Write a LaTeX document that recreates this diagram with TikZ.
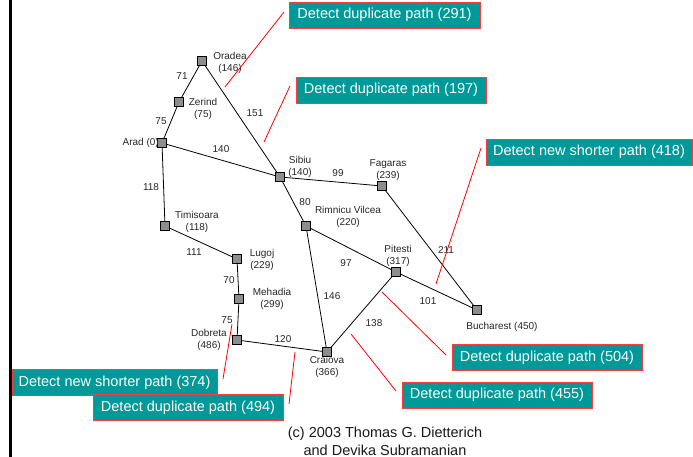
\documentclass[tikz,border=0pt]{standalone}
\usepackage{fontspec}
\setmainfont{Liberation Sans}
\definecolor{boxteal}{RGB}{0,153,153}
\definecolor{boxred}{RGB}{255,60,60}
\begin{document}
\begin{tikzpicture}[x=1pt,y=-1pt,
  city/.style={draw=black,fill=gray!95!black!85,minimum size=9pt,inner sep=0pt,line width=0.9pt},
  lbl/.style={font=\fontsize{10}{12.5}\selectfont,align=center,inner sep=0pt,text=black!85},
  elbl/.style={font=\fontsize{10}{12}\selectfont,inner sep=0pt,text=black!85},
  note/.style={draw=boxred,fill=boxteal,text=white,line width=0.8pt,font=\fontsize{14.5}{17}\selectfont,minimum height=26pt,inner sep=0pt},
  road/.style={draw=black,line width=0.8pt},
  pointer/.style={draw=red,line width=0.8pt}]
\useasboundingbox (0,0) rectangle (693,457);
\fill[black] (9,0) rectangle (11.5,457);

% cities
\node[city] (oradea) at (202,61) {};
\node[city] (zerind) at (179,102) {};
\node[city] (arad) at (162,143) {};
\node[city] (sibiu) at (280,177) {};
\node[city] (timisoara) at (165,226) {};
\node[city] (rimnicu) at (306,226) {};
\node[city] (fagaras) at (382,186) {};
\node[city] (pitesti) at (396,272) {};
\node[city] (bucharest) at (477,310) {};
\node[city] (lugoj) at (237,259) {};
\node[city] (mehadia) at (239,299) {};
\node[city] (dobreta) at (237,340) {};
\node[city] (craiova) at (327,352) {};

% city labels
\node[lbl] (l-oradea) at (230,63) {Oradea\\(146)};
\node[lbl] (l-zerind) at (203,109) {Zerind\\(75)};
\node[lbl,anchor=east] (l-arad) at (159,143) {Arad (0)};
\node[lbl] (l-sibiu) at (300,167) {Sibiu\\(140)};
\node[lbl] (l-timisoara) at (197,222) {Timisoara\\(118)};
\node[lbl] (l-fagaras) at (388,170) {Fagaras\\(239)};
\node[lbl] (l-rimnicu) at (348,217) {Rimnicu Vilcea\\(220)};
\node[lbl] (l-pitesti) at (398,256) {Pitesti\\(317)};
\node[lbl] (l-bucharest) at (502,327) {Bucharest (450)};
\node[lbl] (l-lugoj) at (262,260) {Lugoj\\(229)};
\node[lbl] (l-mehadia) at (272,299) {Mehadia\\(299)};
\node[lbl] (l-dobreta) at (209,340) {Dobreta\\(486)};
\node[lbl] (l-craiova) at (327,367) {Craiova\\(366)};

% roads
\draw[road] (arad) -- (zerind);
\draw[road] (zerind) -- (oradea);
\draw[road] (oradea) -- (sibiu);
\draw[road] (arad) -- (sibiu);
\draw[road] (arad) -- (timisoara);
\draw[road] (timisoara) -- (lugoj);
\draw[road] (lugoj) -- (mehadia);
\draw[road] (mehadia) -- (dobreta);
\draw[road] (dobreta) -- (craiova);
\draw[road] (sibiu) -- (fagaras);
\draw[road] (sibiu) -- (rimnicu);
\draw[road] (rimnicu) -- (pitesti);
\draw[road] (rimnicu) -- (craiova);
\draw[road] (pitesti) -- (craiova);
\draw[road] (pitesti) -- (bucharest);
\draw[road] (fagaras) -- (bucharest);

% road distances
\node[elbl] (d1) at (182,76) {71};
\node[elbl] (d2) at (161,121) {75};
\node[elbl] (d3) at (255,113) {151};
\node[elbl] (d4) at (221,149) {140};
\node[elbl] (d5) at (151,187) {118};
\node[elbl] (d6) at (338,173) {99};
\node[elbl] (d7) at (305,202) {80};
\node[elbl] (d8) at (346,263) {97};
\node[elbl] (d9) at (446,250) {211};
\node[elbl] (d10) at (332,296) {146};
\node[elbl] (d11) at (428,301) {101};
\node[elbl] (d12) at (374,323) {138};
\node[elbl] (d13) at (194,252) {111};
\node[elbl] (d14) at (229,280) {70};
\node[elbl] (d15) at (227,320) {75};
\node[elbl] (d16) at (283,339) {120};

% notes
\node[note,minimum width=191pt] (n291) at (384.5,15) {Detect duplicate path (291)};
\node[note,minimum width=190pt] (n197) at (391,90) {Detect duplicate path (197)};
\node[note,minimum width=206pt] (n418) at (589,152) {Detect new shorter path (418)};
\node[note,minimum width=190pt] (n504) at (547,357.5) {Detect duplicate path (504)};
\node[note,minimum width=190pt] (n455) at (497,395) {Detect duplicate path (455)};
\node[note,minimum width=205pt] (n374) at (114.5,382.5) {Detect new shorter path (374)};
\node[note,minimum width=190pt] (n494) at (188,407.5) {Detect duplicate path (494)};

% pointers
\coordinate (p291a) at (225,87);  \coordinate (p291b) at (284,12);
\coordinate (p197a) at (264,142); \coordinate (p197b) at (290,86);
\coordinate (p418a) at (436,284); \coordinate (p418b) at (481,148);
\coordinate (p504a) at (382,292); \coordinate (p504b) at (446,355);
\coordinate (p455a) at (351,334); \coordinate (p455b) at (396,391);
\coordinate (p374a) at (232,324); \coordinate (p374b) at (223,379);
\coordinate (p494a) at (295,352); \coordinate (p494b) at (289,404);
\draw[pointer] (p291a) -- (p291b);
\draw[pointer] (p197a) -- (p197b);
\draw[pointer] (p418a) -- (p418b);
\draw[pointer] (p504a) -- (p504b);
\draw[pointer] (p455a) -- (p455b);
\draw[pointer] (p374a) -- (p374b);
\draw[pointer] (p494a) -- (p494b);

% credit
\node[font=\fontsize{14.5}{18}\selectfont,align=center,inner sep=0pt,text=black!90] (credit) at (385,441) {(c) 2003 Thomas G. Dietterich\\and Devika Subramanian};
\end{tikzpicture}
\end{document}
